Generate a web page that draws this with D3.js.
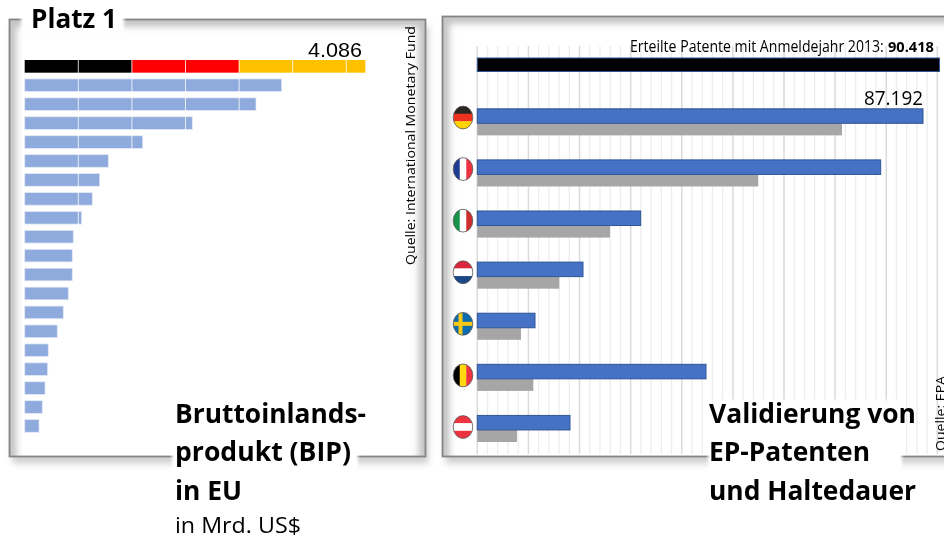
<!DOCTYPE html>
<html><head><meta charset="utf-8">
<script src="https://cdn.jsdelivr.net/npm/d3@7"></script>
<style>html,body{margin:0;padding:0;background:#fff;overflow:hidden}svg{display:block}text{font-family:"Open Sans",sans-serif;fill:#000}</style>
</head><body><svg id="c" width="944" height="538"></svg>
<script>
const gdpValues=[4086,3083,2775,2011,1416,1003,900,811,684,583,571,571,523,463,391,283,276,244,211,172];
const gdpGrid=[643,1286,1929,2572,3215,3858];
const germanColors=["#000000","#ff0000","#ffc000"];
const germanBreaks=[0,1286,2572,4086];
const countries=["DE","FR","IT","NL","SE","BE","AT"];
const validated=[87192,78912,31964,20677,11287,44738,18134];
const held=[71342,54969,25959,16041,8549,10955,7766];
const totalGranted=90418;
const flags={
 DE:{dir:"h",c:["#2b2523","#ee3124","#ffd400"]},
 FR:{dir:"v",c:["#1f3a93","#ffffff","#ef3340"]},
 IT:{dir:"v",c:["#16924a","#ffffff","#cf2e2e"]},
 NL:{dir:"h",c:["#d9283c","#ffffff","#1b4a86"]},
 SE:{dir:"c",c:["#0f6cab","#f7c812"]},
 BE:{dir:"v",c:["#000000","#ffd90c","#ef3340"]},
 AT:{dir:"h",c:["#ed3340","#ffffff","#ed3340"]}
};
const svg=d3.select("#c");
const defs=svg.append("defs");
[["b3",3],["b2",2.2],["b1",1.6],["soft",0.45]].forEach(([id,s])=>defs.append("filter").attr("id",id)
  .attr("x","-10%").attr("y","-10%").attr("width","120%").attr("height","120%")
  .append("feGaussianBlur").attr("stdDeviation",s));
const root=svg.append("g").attr("filter","url(#soft)");

function panel(id,x,y,w,h){
  defs.append("clipPath").attr("id",id).append("rect").attr("x",x).attr("y",y).attr("width",w).attr("height",h);
  root.append("rect").attr("x",x+3).attr("y",y+7).attr("width",w).attr("height",h).attr("fill","#cfcfcf").attr("filter","url(#b3)");
  root.append("rect").attr("x",x).attr("y",y).attr("width",w).attr("height",h).attr("fill","#fff");
  const g=root.append("g").attr("clip-path",`url(#${id})`);
  g.append("rect").attr("x",x).attr("y",y).attr("width",w).attr("height",h+30).attr("fill","none")
   .attr("stroke","#c4c4c4").attr("stroke-width",14).attr("filter","url(#b3)");
}
function frame(x,y,w,h){
  root.append("rect").attr("x",x).attr("y",y).attr("width",w).attr("height",h).attr("fill","none").attr("stroke","#858585").attr("stroke-width",1.8);
}
function txt(s,x,y,size,weight,len,parent){
  const t=(parent||root).append("text").attr("x",x).attr("y",y).attr("font-size",size).attr("font-weight",weight||400).text(s);
  if(len)t.attr("textLength",len).attr("lengthAdjust","spacingAndGlyphs");
  return t;
}
function squeezed(s,x,y,size,weight,width){
  const t=root.append("text").attr("font-size",size).attr("font-weight",weight).text(s);
  const k=width/t.node().getComputedTextLength();
  t.attr("transform",`translate(${x},${y}) scale(${k},1)`);
  return t;
}
function mask(x,y,w,h){root.append("rect").attr("x",x).attr("y",y).attr("width",w).attr("height",h).attr("fill","#fff").attr("filter","url(#b1)");}

/* left panel */
panel("pl",9.5,19.5,416,437);
frame(9.5,19.5,416,437);
const xL=d3.scaleLinear().domain([0,4086]).range([24.7,365.3]);
const yL=d3.scaleBand().domain(d3.range(gdpValues.length)).range([60,432.3]).paddingInner(0.33);
root.append("g").selectAll("rect").data(gdpValues.slice(1)).join("rect")
  .attr("x",xL(0)).attr("y",(d,i)=>yL(i+1)).attr("width",d=>xL(d)-xL(0)).attr("height",yL.bandwidth())
  .attr("fill","#8faadc").attr("stroke","#e4eaf6").attr("stroke-width",.8);
root.append("g").selectAll("rect").data(germanColors).join("rect")
  .attr("x",(d,i)=>xL(germanBreaks[i])).attr("y",yL(0)).attr("width",(d,i)=>xL(germanBreaks[i+1])-xL(germanBreaks[i])).attr("height",yL.bandwidth()).attr("fill",d=>d);
root.append("g").selectAll("line").data(gdpGrid).join("line")
  .attr("x1",d=>xL(d)).attr("x2",d=>xL(d)).attr("y1",yL(0)).attr("y2",yL(gdpValues.length-1)+yL.bandwidth())
  .attr("stroke","#fff").attr("stroke-width",1).attr("stroke-opacity",.8);
txt("4.086",308,57,20.5,400,54).style("font-family","'Liberation Sans'");
txt("Quelle: International Monetary Fund",0,0,13.5,400,239).attr("transform","translate(415,265) rotate(-90)");
mask(21,5,103,27);
txt("Platz 1",31,28,26,700,86);
mask(172,410,186,128);

/* right panel */
panel("pr",442.5,16.5,520,440);
frame(442.5,16.5,520,440);
const xR=d3.scaleLinear().domain([0,87192]).range([477.3,923]);
const yR=d3.scaleBand().domain(countries).range([108.3,442]).paddingInner(0.47);
const yFlag=d3.scalePoint().domain(countries).range([117.5,427]);
const blueH=yR.bandwidth()*0.555, grayH=yR.bandwidth()-blueH;
const gridAll=d3.range(0,90001,2000);
const gridG=root.append("g");
gridG.selectAll("line").data(gridAll.filter(d=>d%10000)).join("line")
  .attr("x1",d=>xR(d)).attr("x2",d=>xR(d)).attr("y1",46).attr("y2",454).attr("stroke","#ededed").attr("stroke-width",1.3);
gridG.append("g").selectAll("line").data(gridAll.filter(d=>d%10000===0)).join("line")
  .attr("x1",d=>xR(d)).attr("x2",d=>xR(d)).attr("y1",46).attr("y2",454).attr("stroke","#dadada").attr("stroke-width",1.5);
root.append("rect").attr("x",xR(0)).attr("y",58).attr("width",xR(totalGranted)-xR(0)).attr("height",13.5)
  .attr("fill","#000").attr("stroke","#2f5597").attr("stroke-width",1);
root.append("g").selectAll("rect").data(held).join("rect")
  .attr("x",xR(0)).attr("y",(d,i)=>yR(countries[i])+blueH).attr("width",d=>xR(d)-xR(0)).attr("height",grayH).attr("fill","#a6a6a6");
root.append("g").selectAll("rect").data(validated).join("rect")
  .attr("x",xR(0)).attr("y",(d,i)=>yR(countries[i])+0.5).attr("width",d=>xR(d)-xR(0)).attr("height",blueH-0.5)
  .attr("fill","#4472c4").attr("stroke","#2f5597").attr("stroke-width",1);
/* flags */
const rx=9.8, ry=11.4, cx=463;
countries.forEach((c,i)=>{
  const cy=yFlag(c);
  const id="f"+c;
  defs.append("clipPath").attr("id",id).append("ellipse").attr("cx",cx).attr("cy",cy).attr("rx",rx).attr("ry",ry);
  const g=root.append("g").attr("clip-path",`url(#${id})`);
  const f=flags[c];
  if(f.dir==="h") f.c.forEach((k,j)=>g.append("rect").attr("x",cx-rx).attr("y",cy-ry+j*2*ry/3).attr("width",2*rx).attr("height",2*ry/3+.3).attr("fill",k));
  else if(f.dir==="v") f.c.forEach((k,j)=>g.append("rect").attr("x",cx-rx+j*2*rx/3).attr("y",cy-ry).attr("width",2*rx/3+.3).attr("height",2*ry).attr("fill",k));
  else{
    g.append("rect").attr("x",cx-rx).attr("y",cy-ry).attr("width",2*rx).attr("height",2*ry).attr("fill",f.c[0]);
    g.append("rect").attr("x",cx-rx).attr("y",cy-2).attr("width",2*rx).attr("height",4).attr("fill",f.c[1]);
    g.append("rect").attr("x",cx-4.5).attr("y",cy-ry).attr("width",4).attr("height",2*ry).attr("fill",f.c[1]);
  }
  root.append("ellipse").attr("cx",cx).attr("cy",cy).attr("rx",rx).attr("ry",ry).attr("fill","none").attr("stroke","#555").attr("stroke-width",.8);
});
squeezed("Erteilte Patente mit Anmeldejahr 2013:",630,51.5,15.5,400,254);
squeezed("90.418",888,51.5,15,700,46);
txt("87.192",864,105,20,400,59);
mask(708,400,194,138);
txt("Quelle: EPA",0,0,13.5,400,75).attr("transform","translate(945,451) rotate(-90)");

/* titles */
txt("Bruttoinlands-",175,423,26.5,700,191);
txt("produkt (BIP)",175,461,26.5,700,176);
txt("in EU",175,500,26.5,700,67);
txt("in Mrd. US$",175,533,21.5,400,126);
txt("Validierung von",709,423,26.5,700,207);
txt("EP-Patenten",709,461,26.5,700,161);
txt("und Haltedauer",709,500,26.5,700,207);
</script></body></html>
